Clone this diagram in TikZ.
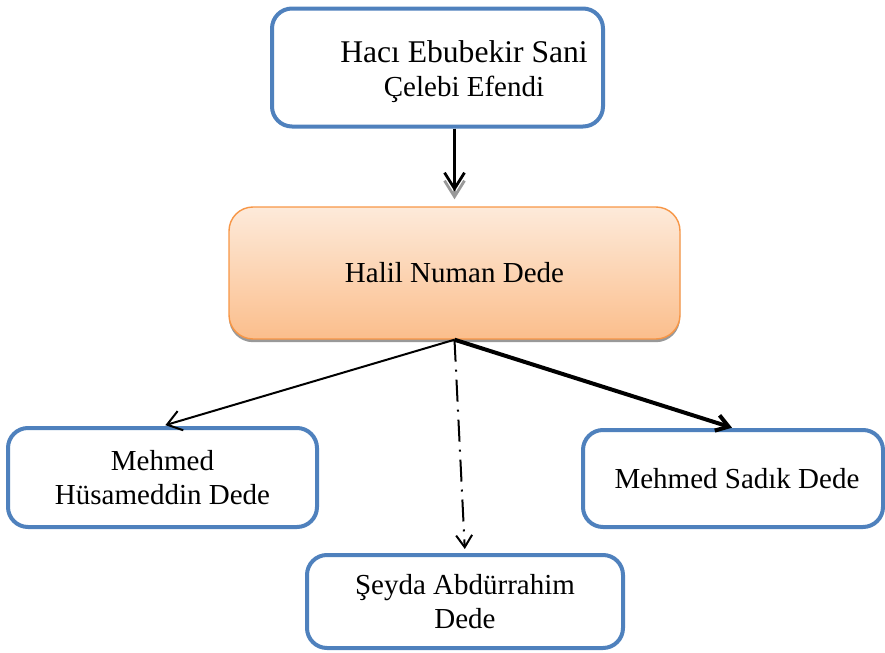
\documentclass[tikz,border=0pt]{standalone}
\usepackage{fontspec}
\setmainfont{Liberation Serif}
\usepackage{tikz}
\usetikzlibrary{arrows.meta,shadows}
\definecolor{boxblue}{RGB}{79,129,189}
\definecolor{boxorange}{RGB}{247,150,70}
\definecolor{orangetop}{RGB}{253,234,218}
\definecolor{orangebot}{RGB}{251,190,140}
\tikzset{
  bluebox/.style={draw=boxblue, line width=2pt, rounded corners=10pt, fill=white,
    align=center, inner sep=0pt, font=\fontsize{14.5}{17}\selectfont},
  orangebox/.style={draw=boxorange, line width=0.7pt, rounded corners=12pt,
    top color=orangetop, bottom color=orangebot, align=center,
    font=\fontsize{14.5}{17}\selectfont,
    drop shadow={shadow xshift=0pt, shadow yshift=-1.6pt, fill=black!40, opacity=1}},
  txt/.style={align=center, font=\fontsize{14.5}{17}\selectfont},
  barb/.style={-{Straight Barb[length=8pt,width=10pt]}}
}
\begin{document}
\begin{tikzpicture}[x=0.5pt,y=-0.5pt]
\useasboundingbox (0,0) rectangle (885,653);
% boxes
\node[bluebox, minimum width=165.5pt, minimum height=59pt] (top) at (437.5,67.5) {};
\node[txt] (toptxt) at (464,72) {{\fontsize{15.8}{17}\selectfont Hacı Ebubekir Sani}\\Çelebi Efendi};
\node[orangebox, minimum width=225.5pt, minimum height=66pt] (hnd) at (454.5,273) {Halil Numan Dede};
\node[bluebox, minimum width=154.5pt, minimum height=49.5pt] (mhd) at (162.5,477.5) {Mehmed\\Hüsameddin Dede};
\node[bluebox, minimum width=150pt, minimum height=48.5pt] (msd) at (733,478.5) {\hspace*{4pt}Mehmed Sadık Dede};
\node[bluebox, minimum width=158pt, minimum height=46.5pt] (sad) at (465,601.5) {Şeyda Abdürrahim\\Dede};
% arrows
\draw[barb, line width=1.4pt, black!40, shorten >=3.5pt, yshift=-3.5pt] (hnd.north |- top.south) -- (hnd.north);
\draw[barb, line width=1.4pt, shorten >=7.5pt] (hnd.north |- top.south) -- (hnd.north);
\draw[-{Straight Barb[length=7pt,width=10pt]}, line width=1pt, shorten >=1.5pt] (hnd.south) -- (mhd.north);
\draw[-{Straight Barb[length=6pt,width=8pt]}, line width=2pt, shorten >=0.5pt] (hnd.south) -- (msd.north);
\draw[-{Straight Barb[length=6pt,width=8pt]}, line width=1pt, dash pattern=on 11pt off 4pt on 1pt off 4pt, shorten >=2pt] (hnd.south) -- (sad.north);
\end{tikzpicture}
\end{document}
